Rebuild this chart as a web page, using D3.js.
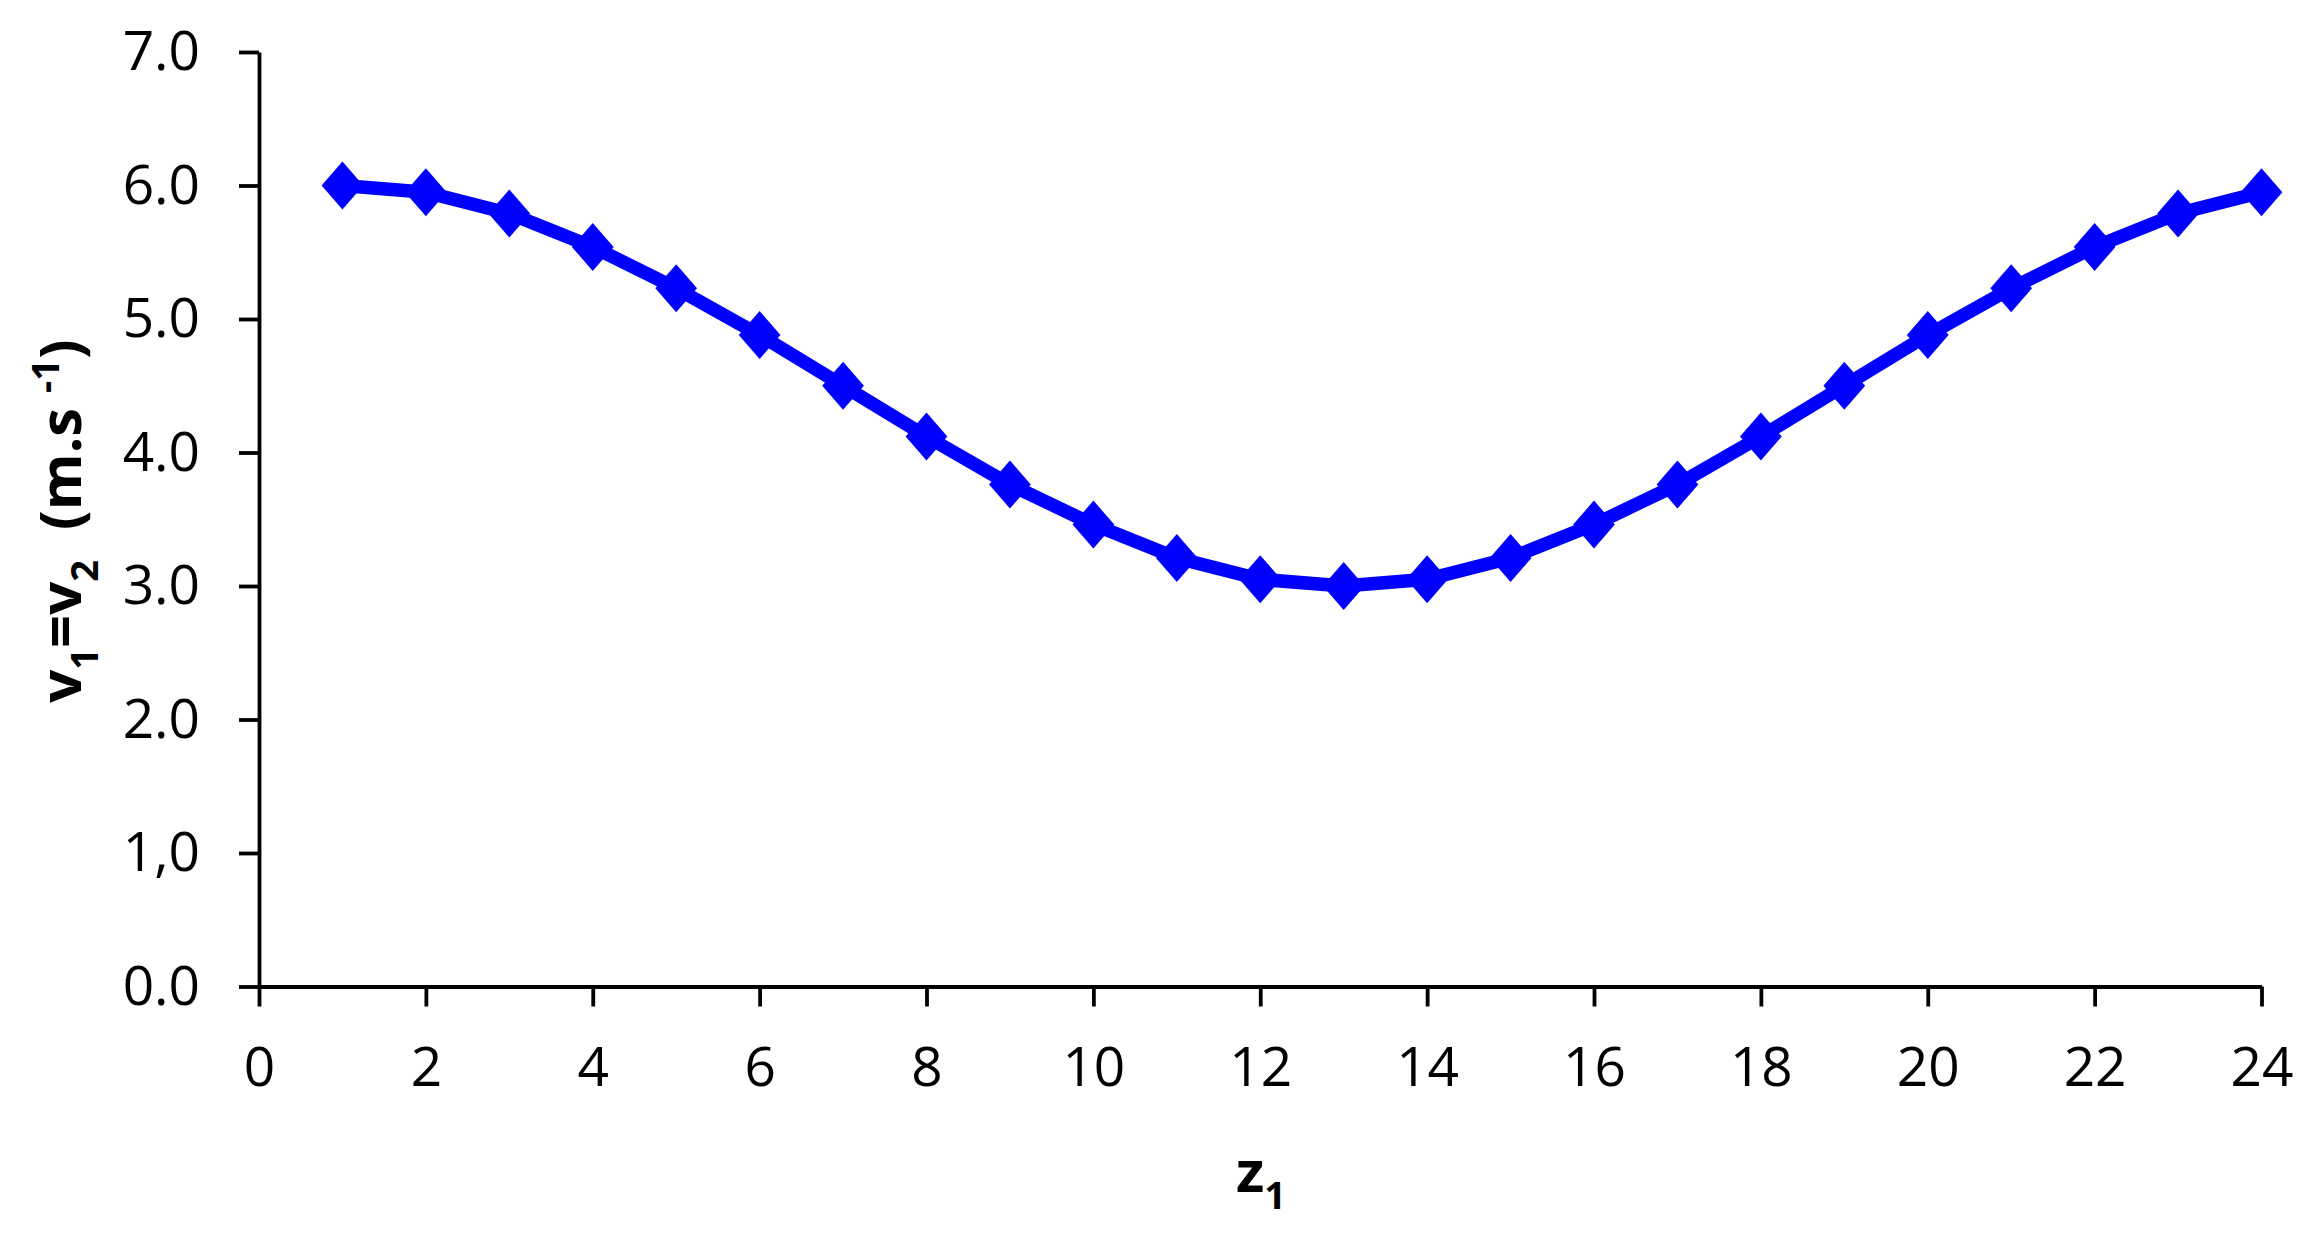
<!DOCTYPE html>
<html>
<head>
<meta charset="utf-8">
<script src="https://cdn.jsdelivr.net/npm/d3@7/dist/d3.min.js"></script>
<style>
  html, body { margin: 0; padding: 0; background: #fff; }
  svg { display: block; }
</style>
</head>
<body>
<svg id="chart" width="2324" height="1241"></svg>
<script>
// ---- data ----
const zValues = [1,2,3,4,5,6,7,8,9,10,11,12,13,14,15,16,17,18,19,20,21,22,23,24];
const vValues = [6.00,5.95,5.79,5.54,5.23,4.88,4.50,4.12,3.76,3.46,3.21,3.05,3.00,3.05,3.21,3.46,3.76,4.12,4.50,4.88,5.23,5.54,5.79,5.95];
const xTickValues = [0,2,4,6,8,10,12,14,16,18,20,22,24];
const yTickValues = [0,1,2,3,4,5,6,7];
const yTickLabels = ["0.0","1,0","2.0","3.0","4.0","5.0","6.0","7.0"];

// ---- layout ----
const svg = d3.select("#chart");
const plotLeft = 259, plotRight = 2261.5, plotTop = 52, plotBottom = 986.5;
const x = d3.scaleLinear().domain([0, 24]).range([plotLeft, plotRight]);
const y = d3.scaleLinear().domain([0, 7]).range([plotBottom, plotTop]);
const font = "'Open Sans', 'Noto Sans', sans-serif";

// axes
const xAxis = d3.axisBottom(x).tickValues(xTickValues).tickFormat(d3.format("d"))
  .tickSize(20).tickSizeOuter(0).tickPadding(40);
const yAxis = d3.axisLeft(y).tickValues(yTickValues).tickFormat((d, i) => yTickLabels[i])
  .tickSize(20).tickSizeOuter(0).tickPadding(39);

const gx = svg.append("g").attr("transform", `translate(0,${plotBottom})`).call(xAxis);
const gy = svg.append("g").attr("transform", `translate(${plotLeft},0)`).call(yAxis);
[gx, gy].forEach(g => {
  g.selectAll("path.domain").attr("stroke", "#000").attr("stroke-width", 3.8);
  g.selectAll(".tick line").attr("stroke", "#000").attr("stroke-width", 3.8);
  g.selectAll(".tick text").attr("fill", "#000")
    .style("font-family", font).style("font-size", "55px");
});

// series
const data = zValues.map((z, i) => ({ z, v: vValues[i] }));
svg.append("path")
  .datum(data)
  .attr("fill", "none")
  .attr("stroke", "#0000FF")
  .attr("stroke-width", 13.5)
  .attr("stroke-linejoin", "round")
  .attr("d", d3.line().x(d => x(d.z)).y(d => y(d.v)));

const diamond = d3.symbol().type(d3.symbolSquare).size(1150);
svg.append("g").selectAll("path")
  .data(data)
  .join("path")
  .attr("fill", "#0000FF")
  .attr("d", diamond)
  .attr("transform", d => `translate(${x(d.z)},${y(d.v)}) scale(0.87,1) rotate(45)`);

// axis titles
const xt = svg.append("text")
  .attr("x", 1261).attr("y", 1192)
  .attr("text-anchor", "middle")
  .style("font-family", font).style("font-size", "58px").style("font-weight", "bold")
  .attr("fill", "#000");
xt.append("tspan").text("z");
xt.append("tspan").attr("dy", 17).style("font-size", "38px").text("1");

const yt = svg.append("text")
  .attr("transform", "translate(81,521) rotate(-90)")
  .attr("text-anchor", "middle")
  .style("font-family", font).style("font-size", "58px").style("font-weight", "bold")
  .attr("fill", "#000");
yt.append("tspan").text("v");
yt.append("tspan").attr("dy", 17).style("font-size", "38px").text("1");
yt.append("tspan").attr("dy", -17).text("=v");
yt.append("tspan").attr("dy", 17).style("font-size", "38px").text("2");
yt.append("tspan").attr("dy", -17).style("white-space", "pre").text("  (m.s ");
yt.append("tspan").attr("dy", -22).style("font-size", "38px").text("-1");
yt.append("tspan").attr("dy", 22).text(")");
</script>
</body>
</html>
